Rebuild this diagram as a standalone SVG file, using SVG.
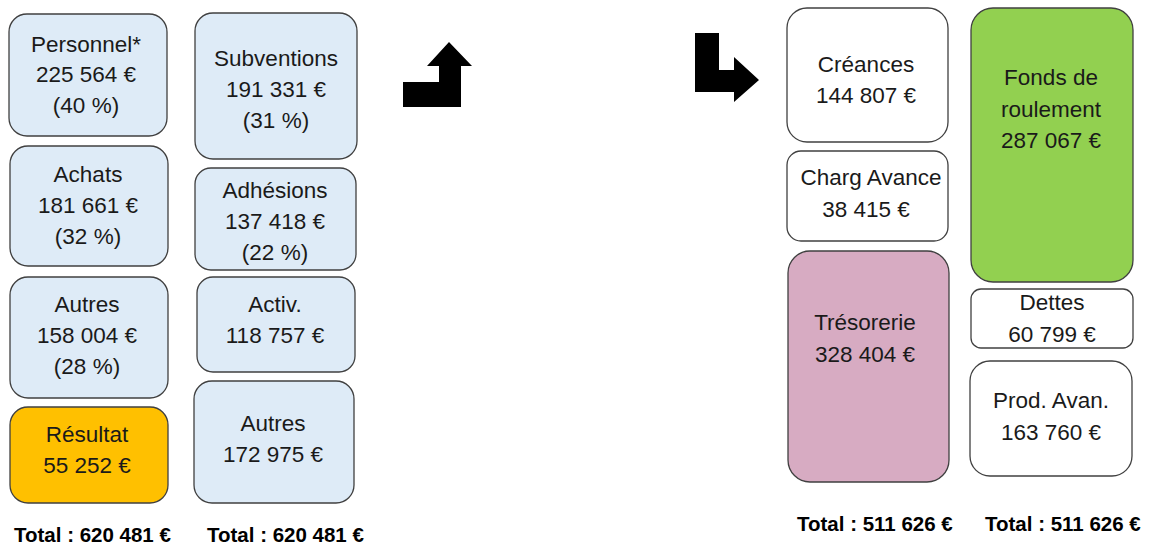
<svg xmlns="http://www.w3.org/2000/svg" width="1149" height="546" viewBox="0 0 1149 546">
<style>
.box{stroke:#404040;stroke-width:1.3}
.blue{fill:#DEEBF7}
.white{fill:#FFFFFF}
.orange{fill:#FFC000}
.green{fill:#92D050}
.pink{fill:#D7ABC2}
text{font-family:"Liberation Sans",Arial,sans-serif;font-size:22.5px;fill:#1a1a1a;text-anchor:middle}
.total{font-weight:bold;font-size:20.5px;fill:#000;text-anchor:start}
.arrow{fill:#000}
</style>
<rect width="1149" height="546" fill="#fff"/>
<g id="personnel"><rect class="box blue" x="9" y="14" width="158" height="122" rx="18"/><text x="86" y="52">Personnel*</text><text x="86" y="82">225 564 €</text><text x="86" y="113">(40 %)</text></g>
<g id="achats"><rect class="box blue" x="10" y="146" width="158" height="120" rx="18"/><text x="88" y="182">Achats</text><text x="88" y="213">181 661 €</text><text x="88" y="244">(32 %)</text></g>
<g id="autres-charges"><rect class="box blue" x="10" y="277" width="158" height="121" rx="18"/><text x="87" y="312">Autres</text><text x="87" y="343">158 004 €</text><text x="87" y="374">(28 %)</text></g>
<g id="resultat"><rect class="box orange" x="10" y="407" width="158" height="96" rx="18"/><text x="87" y="442">Résultat</text><text x="87" y="473">55 252 €</text></g>
<g id="subventions"><rect class="box blue" x="195" y="13" width="162" height="146" rx="18"/><text x="276" y="66">Subventions</text><text x="276" y="97">191 331 €</text><text x="276" y="128">(31 %)</text></g>
<g id="adhesions"><rect class="box blue" x="195" y="168" width="161" height="102" rx="16"/><text x="275" y="198">Adhésions</text><text x="275" y="229">137 418 €</text><text x="275" y="260">(22 %)</text></g>
<g id="activ"><rect class="box blue" x="197" y="277" width="158" height="95" rx="16"/><text x="275" y="312">Activ.</text><text x="275" y="343">118 757 €</text></g>
<g id="autres-produits"><rect class="box blue" x="194" y="381" width="160" height="122" rx="18"/><text x="273" y="431">Autres</text><text x="273" y="462">172 975 €</text></g>
<g id="totals-left"><text class="total" x="14" y="542">Total : 620 481 €</text><text class="total" x="207" y="542">Total : 620 481 €</text></g>
<g id="arrows">
<polygon class="arrow" points="403,82 439,82 439,66 427,66 449,42 472,66 461,66 461,107 403,107"/>
<polygon class="arrow" points="695,33 719,33 719,70 734,70 734,57 759,80 734,102 734,92 695,92"/>
</g>
<g id="creances"><rect class="box white" x="787" y="8" width="161" height="134" rx="20"/><text x="866" y="72">Créances</text><text x="866" y="103">144 807 €</text></g>
<g id="charg-avance"><rect class="box white" x="787" y="151" width="161" height="90" rx="14"/><text x="871" y="185">Charg Avance</text><text x="866" y="217">38 415 €</text></g>
<g id="tresorerie"><rect class="box pink" x="788" y="251" width="161" height="231" rx="22"/><text x="865" y="330">Trésorerie</text><text x="865" y="362">328 404 €</text></g>
<g id="fonds-roulement"><rect class="box green" x="971" y="8" width="162" height="274" rx="22"/><text x="1051" y="85">Fonds de</text><text x="1051" y="117">roulement</text><text x="1051" y="148">287 067 €</text></g>
<g id="dettes"><rect class="box white" x="971" y="289" width="162" height="59" rx="10"/><text x="1052" y="310">Dettes</text><text x="1052" y="342">60 799 €</text></g>
<g id="prod-avan"><rect class="box white" x="970" y="361" width="162" height="115" rx="20"/><text x="1051" y="408">Prod. Avan.</text><text x="1051" y="440">163 760 €</text></g>
<g id="totals-right"><text class="total" x="797" y="531">Total : 511 626 €</text><text class="total" x="985" y="531">Total : 511 626 €</text></g>
</svg>
